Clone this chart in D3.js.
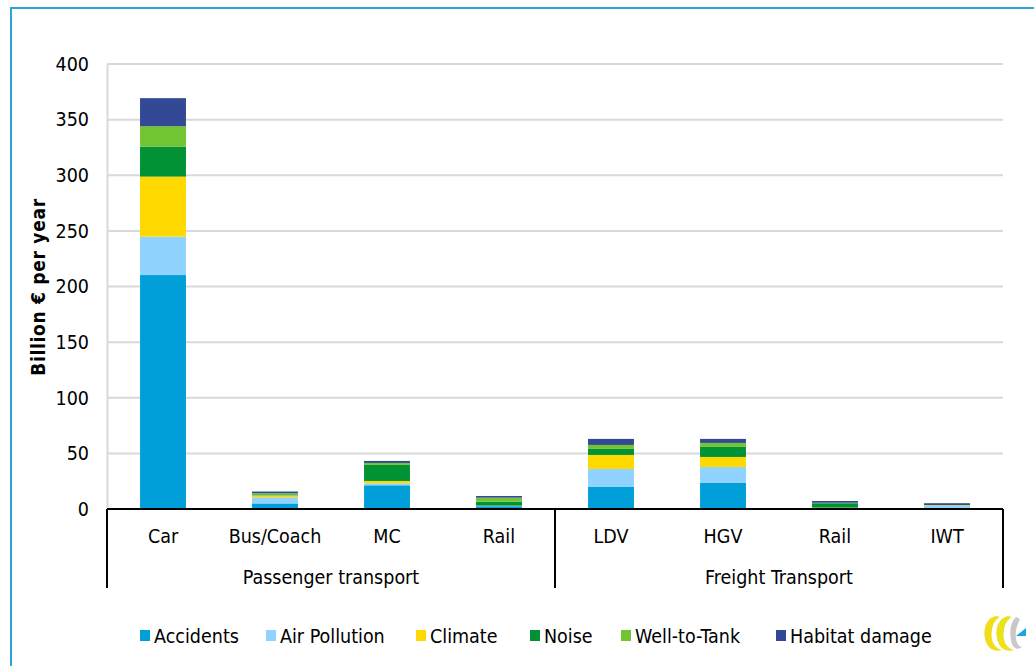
<!DOCTYPE html>
<html>
<head>
<meta charset="utf-8">
<script src="https://cdn.jsdelivr.net/npm/d3@7"></script>
<style>
  html, body { margin: 0; padding: 0; background: #fff; }
  svg { display: block; }
  text { font-family: "DejaVu Sans Condensed", "DejaVu Sans", sans-serif; fill: #000; }
</style>
</head>
<body>
<svg id="chart" width="1034" height="666"></svg>
<script>
// External costs of transport by mode (billion € per year)
const categories = ["Car", "Bus/Coach", "MC", "Rail", "LDV", "HGV", "Rail", "IWT"];
const groups = ["Passenger transport", "Freight Transport"];
const groupSizes = [4, 4];
const seriesNames = ["Accidents", "Air Pollution", "Climate", "Noise", "Well-to-Tank", "Habitat damage"];
const seriesColors = ["#009fda", "#8fd3fe", "#ffd800", "#009235", "#72c532", "#334996"];

const accidents    = [210.3, 5.0, 21.3, 2.5, 19.8, 23.4, 0.7, 0.4];
const airPollution = [34.5, 5.5, 1.8, 0.3, 16.2, 14.4, 0.3, 2.4];
const climate      = [54.0, 1.8, 2.1, 0.2, 12.6, 9.0, 0.2, 0.5];
const noise        = [27.0, 0.9, 14.4, 3.6, 5.4, 9.0, 4.0, 0.0];
const wellToTank   = [18.3, 1.0, 1.8, 3.6, 3.6, 3.6, 0.4, 0.3];
const habitat      = [25.2, 1.5, 1.8, 1.5, 5.4, 3.6, 1.6, 1.6];
const yTicks = [0, 50, 100, 150, 200, 250, 300, 350, 400];

const seriesValues = [accidents, airPollution, climate, noise, wellToTank, habitat];

const svg = d3.select("#chart");
const fontSize = "19.5px";

// outer frame
svg.append("path")
  .attr("d", "M11,666 L11,8 L1034,8")
  .attr("fill", "none")
  .attr("stroke", "#2ea3dc")
  .attr("stroke-width", 2);

const plotLeft = 107, plotRight = 1003, plotTop = 64, plotBottom = 509;

const keys = categories.map((c, i) => i + ":" + c);
const x = d3.scaleBand().domain(keys).range([plotLeft, plotRight]).paddingInner(0.59).paddingOuter(0.295);
const y = d3.scaleLinear().domain([0, 400]).range([plotBottom, plotTop]);

// gridlines
svg.append("g")
  .selectAll("line")
  .data(yTicks.filter(t => t > 0))
  .join("line")
  .attr("x1", plotLeft).attr("x2", plotRight)
  .attr("y1", d => y(d)).attr("y2", d => y(d))
  .attr("stroke", "#d9d9d9").attr("stroke-width", 2);

// value axis
const yAxis = svg.append("g")
  .attr("transform", `translate(${plotLeft},0)`)
  .call(d3.axisLeft(y).tickValues(yTicks).tickSize(0).tickPadding(18));
yAxis.select(".domain").attr("stroke", "#d9d9d9").attr("stroke-width", 2);
yAxis.selectAll("text")
  .style("font-family", '"DejaVu Sans Condensed", "DejaVu Sans", sans-serif')
  .style("font-size", fontSize).attr("fill", "#000");

// stacked bars
const rows = categories.map((c, i) => {
  const r = { key: keys[i] };
  seriesNames.forEach((s, j) => { r[s] = seriesValues[j][i]; });
  return r;
});
const stack = d3.stack().keys(seriesNames)(rows);

svg.append("g")
  .selectAll("g")
  .data(stack)
  .join("g")
  .attr("fill", (d, i) => seriesColors[i])
  .selectAll("rect")
  .data(d => d)
  .join("rect")
  .attr("x", d => x(d.data.key))
  .attr("width", x.bandwidth())
  .attr("y", d => y(d[1]))
  .attr("height", d => Math.max(0, y(d[0]) - y(d[1])));

// category axis with group brackets
const axisG = svg.append("g");
axisG.append("line")
  .attr("x1", plotLeft).attr("x2", plotRight)
  .attr("y1", plotBottom).attr("y2", plotBottom)
  .attr("stroke", "#000").attr("stroke-width", 2);

axisG.selectAll("text.cat")
  .data(categories)
  .join("text")
  .attr("class", "cat")
  .attr("x", (d, i) => x(keys[i]) + x.bandwidth() / 2)
  .attr("y", 543)
  .attr("text-anchor", "middle")
  .style("font-size", fontSize)
  .text(d => d);

const step = x.step();
let start = 0;
const bounds = [plotLeft];
groups.forEach((g, gi) => {
  const end = start + groupSizes[gi];
  const gx0 = plotLeft + start * step, gx1 = plotLeft + end * step;
  bounds.push(gx1);
  axisG.append("text")
    .attr("x", (gx0 + gx1) / 2)
    .attr("y", 584)
    .attr("text-anchor", "middle")
    .style("font-size", fontSize)
    .text(g);
  start = end;
});
axisG.selectAll("line.sep")
  .data(bounds)
  .join("line")
  .attr("class", "sep")
  .attr("x1", d => d).attr("x2", d => d)
  .attr("y1", plotBottom).attr("y2", 588)
  .attr("stroke", "#000").attr("stroke-width", 2);

// axis title
svg.append("text")
  .attr("transform", "translate(45,287) rotate(-90)")
  .attr("text-anchor", "middle")
  .style("font-size", "19px")
  .style("font-weight", "bold")
  .style("letter-spacing", "0.7px")
  .text("Billion € per year");

// legend
const legendX = [140, 266, 416, 530, 621, 776];
const legend = svg.append("g")
  .selectAll("g")
  .data(seriesNames)
  .join("g")
  .attr("transform", (d, i) => `translate(${legendX[i]},636)`);
legend.append("rect")
  .attr("x", 0).attr("y", -6).attr("width", 10).attr("height", 11)
  .attr("fill", (d, i) => seriesColors[i]);
legend.append("text")
  .attr("x", 14).attr("y", 7)
  .style("font-size", fontSize)
  .text(d => d);

// logo mark
const logo = svg.append("g").attr("transform", "translate(982,614)");
logo.append("path")
  .attr("d", "M14,2 C4,4 0,16 4,28 C7,36 14,38 20,36 C12,34 8,26 10,16 C11,9 14,5 18,3 Z")
  .attr("fill", "#f2dd1a");
logo.append("path")
  .attr("d", "M26,2 C16,4 12,16 16,28 C19,36 26,38 32,36 C24,34 20,26 22,16 C23,9 26,5 30,3 Z")
  .attr("fill", "#ece11c");
logo.append("path")
  .attr("d", "M34,3 C28,8 27,20 30,30 C32,35 36,36 40,33 C35,32 33,25 34,17 C35,11 37,7 38,5 Z")
  .attr("fill", "#c8c8c8");
logo.append("path")
  .attr("d", "M34,22 L44,14 L44,22 Z")
  .attr("fill", "#1aa3e0");
</script>
</body>
</html>
